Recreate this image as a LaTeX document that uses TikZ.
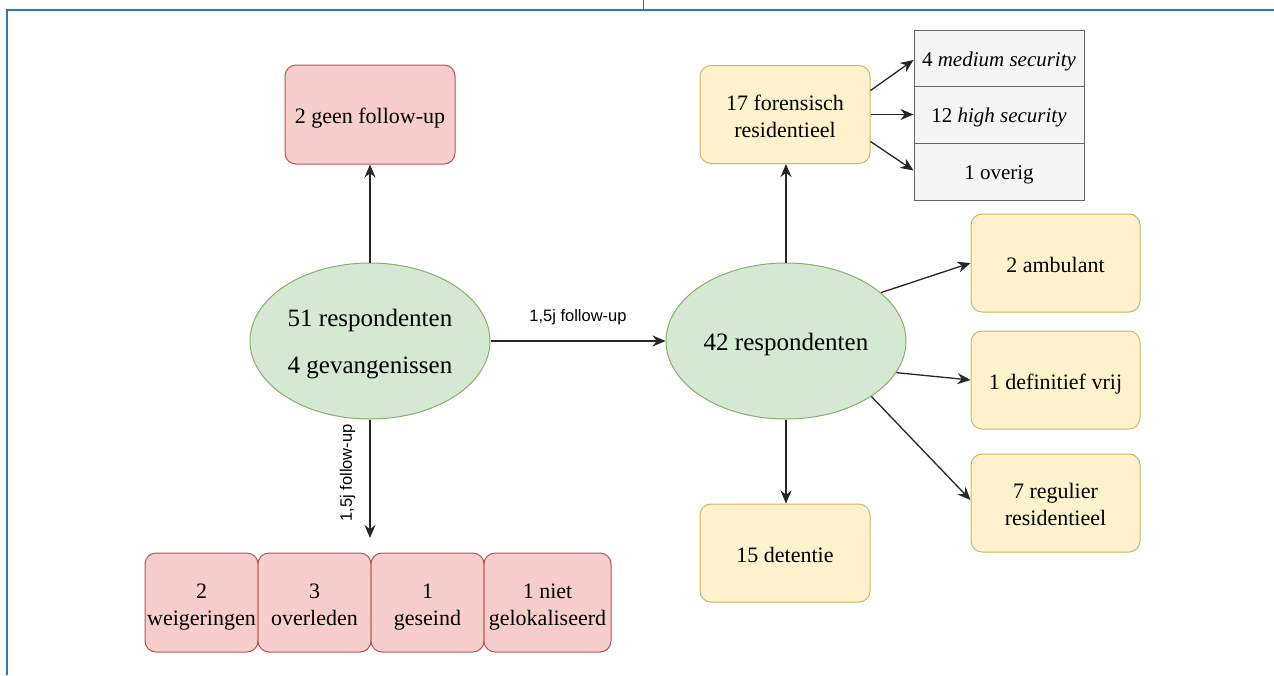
\documentclass[tikz,border=0pt]{standalone}
\usepackage{fontspec}
\setmainfont{Liberation Serif}
\setsansfont{Liberation Sans}
\usetikzlibrary{arrows.meta,shapes.geometric,calc}
\definecolor{gfill}{HTML}{D5E8D4}
\definecolor{gline}{HTML}{82B366}
\definecolor{rfill}{HTML}{F8CECC}
\definecolor{rline}{HTML}{B85450}
\definecolor{yfill}{HTML}{FFF2CC}
\definecolor{yline}{HTML}{D6B656}
\definecolor{sfill}{HTML}{F5F5F5}
\definecolor{sline}{HTML}{666666}
\definecolor{frameblue}{HTML}{2E75B6}
\tikzset{
  ell/.style={ellipse, draw=gline, fill=gfill, line width=1pt, minimum width=240pt, minimum height=156pt, inner sep=0pt, font=\fontsize{25}{30}\selectfont},
  redbox/.style={rectangle, rounded corners=11pt, draw=rline, fill=rfill, line width=1pt, minimum height=99pt, inner sep=0pt, font=\fontsize{22}{27}\selectfont},
  yelbox/.style={rectangle, rounded corners=11pt, draw=yline, fill=yfill, line width=1pt, minimum width=170pt, minimum height=98pt, inner sep=0pt, font=\fontsize{22}{27}\selectfont},
  greybox/.style={rectangle, draw=sline, fill=sfill, line width=1pt, minimum width=170pt, inner sep=0pt, font=\fontsize{21}{25}\selectfont},
  conn/.style={-{Stealth[length=13pt,width=11pt]}, line width=1.3pt, draw=black!85},
  lbl/.style={font=\sffamily\fontsize{16.5}{19}\selectfont, inner sep=0pt}
}
\newcommand{\dn}[2][4pt]{\raisebox{-#1}[\height][\depth]{\begin{tabular}{@{}c@{}}#2\end{tabular}}}
\begin{document}
\begin{tikzpicture}[x=1pt,y=-1pt]
\useasboundingbox (0,0) rectangle (1274,675);
% page frame
\draw[frameblue, line width=2pt] (7,675) -- (7,9.5) -- (1274,9.5);
\draw[frameblue, line width=1pt] (643,0) -- (643,9.5);

% ellipses
\node[ell] (e1) at (370,341) {\dn[3pt]{51 respondenten\\[17pt]4 gevangenissen}};
\node[ell] (e2) at (786,341) {\dn[3pt]{42 respondenten}};

% red boxes
\node[redbox, minimum width=170pt] (geen) at (370,114.5) {\dn{2 geen follow-up}};
\node[redbox, minimum width=113pt] (weig) at (201.5,602.5) {\dn{2\\weigeringen}};
\node[redbox, minimum width=113pt] (over) at (314.5,602.5) {\dn{3\\overleden}};
\node[redbox, minimum width=113pt] (ges) at (427.5,602.5) {\dn{1\\geseind}};
\node[redbox, minimum width=127pt] (niet) at (547.5,602.5) {\dn{1 niet\\gelokaliseerd}};

% yellow boxes
\node[yelbox] (foren) at (785,114.5) {\dn{17 forensisch\\residentieel}};
\node[yelbox, minimum width=169pt] (amb) at (1055.5,263) {\dn{2 ambulant}};
\node[yelbox, minimum width=169pt] (def) at (1055.5,380) {\dn{1 definitief vrij}};
\node[yelbox, minimum width=169pt] (reg) at (1055.5,503) {\dn{7 regulier\\residentieel}};
\node[yelbox] (det) at (785,553) {\dn{15 detentie}};

% grey boxes
\node[greybox, minimum height=56pt] (med) at (999,58) {\dn[3pt]{4 \textit{medium security}}};
\node[greybox, minimum height=57pt] (high) at (999,114.5) {\dn[3pt]{12 \textit{high security}}};
\node[greybox, minimum height=57pt] (ovr) at (999,171.5) {\dn[3pt]{1 overig}};

% connectors
\coordinate (down) at (370,538);
\draw[conn] (e1.north) -- (geen.south);
\draw[conn] (e1.south) -- (down) node[lbl, pos=0.45, rotate=90, above=14pt] {1,5j follow-up};
\draw[conn] (e1.east) -- (e2.west) node[lbl, midway, above=15pt] {1,5j follow-up};
\draw[conn] (e2.north) -- (e2.north |- foren.south);
\draw[conn] (e2.south) -- (e2.south |- det.north);
\draw[conn] (e2.27) -- (amb.west);
\draw[conn] (e2.-16) -- (def.west);
\draw[conn] (e2.-33) -- ([yshift=3pt]reg.west);
\draw[conn] ([yshift=24pt]foren.east) -- ([yshift=-2pt]med.west);
\draw[conn] (foren.east) -- (high.west);
\draw[conn] ([yshift=-27pt]foren.east) -- ([yshift=1pt]ovr.west);
\end{tikzpicture}
\end{document}
